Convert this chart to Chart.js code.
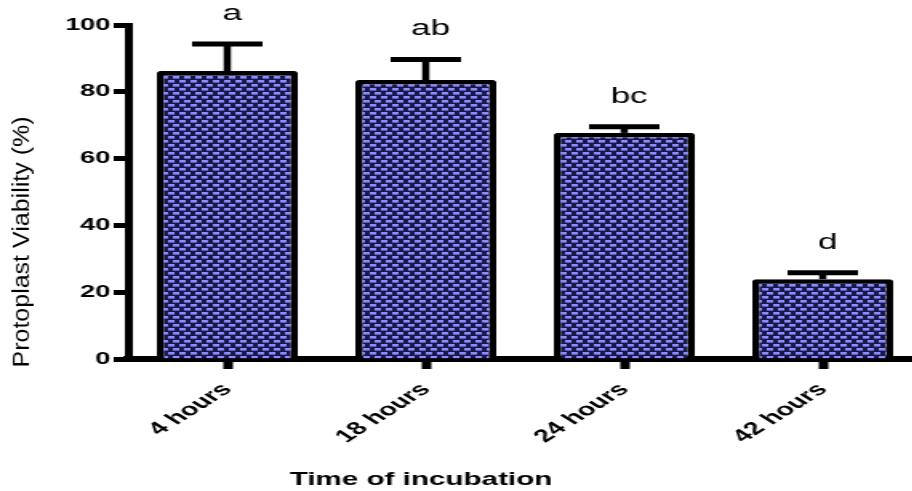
<!DOCTYPE html>
<html>
<head>
<meta charset="utf-8">
<script src="https://cdn.jsdelivr.net/npm/chart.js@4.4.1/dist/chart.umd.min.js"></script>
<style>
html,body{margin:0;padding:0;background:#fff;}
#wrap{width:912px;height:491px;overflow:hidden;position:relative;}
</style>
</head>
<body>
<!-- the source picture is stretched sideways, so the canvas is too -->
<div id="wrap"><canvas id="c" width="576" height="491" style="display:block;width:921.6px;height:491px;"></canvas></div>
<script>
const categories = ['4 hours', '18 hours', '24 hours', '42 hours'];
const viability = [86.2, 83.5, 67.7, 23.9];
const sd = [8.1, 6.2, 1.8, 1.9];
const letters = ['a', 'ab', 'bc', 'd'];
const yTicks = [0, 20, 40, 60, 80, 100];

const FONT = '"Liberation Sans", Arial, sans-serif';

function brick() {
  const t = document.createElement('canvas');
  t.width = 7; t.height = 8;
  const g = t.getContext('2d');
  g.fillStyle = '#17174a';
  g.fillRect(0, 0, 7, 8);
  g.fillStyle = '#8c8cff';
  g.fillRect(0, 0, 4, 2.6);
  g.fillRect(3, 4, 4, 2.6);
  return g.createPattern(t, 'repeat');
}

const extras = {
  id: 'extras',
  afterDatasetsDraw(chart) {
    const {ctx, scales: {x, y}} = chart;
    ctx.save();
    ctx.strokeStyle = '#000';
    ctx.fillStyle = '#000';
    viability.forEach((v, i) => {
      const cx = x.getPixelForValue(i);
      const top = y.getPixelForValue(v);
      const hi = y.getPixelForValue(v + sd[i]);
      ctx.lineWidth = 4.5;
      ctx.beginPath(); ctx.moveTo(cx, top); ctx.lineTo(cx, hi); ctx.stroke();
      ctx.lineWidth = 5;
      ctx.beginPath(); ctx.moveTo(cx - 22, hi); ctx.lineTo(cx + 22, hi); ctx.stroke();
      ctx.font = '22px ' + FONT;
      ctx.textAlign = 'center';
      ctx.textBaseline = 'middle';
      ctx.fillText(letters[i], cx + 3, hi - 30);
    });
    ctx.restore();
  },
  afterDraw(chart) {
    const {ctx, chartArea} = chart;
    ctx.save();
    ctx.fillStyle = '#000';
    // x title
    ctx.font = 'bold 18.5px ' + FONT;
    ctx.textAlign = 'center';
    ctx.textBaseline = 'alphabetic';
    ctx.fillText('Time of incubation', (chartArea.left + chartArea.right) / 2 - 65, 485);
    // y title, narrow letters
    ctx.translate(14, 242);
    ctx.rotate(-Math.PI / 2);
    ctx.scale(1, 0.56);
    ctx.font = '25px ' + FONT;
    ctx.textBaseline = 'middle';
    ctx.fillText('Protoplast Viability (%)', 0, 0);
    ctx.restore();
  }
};

new Chart(document.getElementById('c'), {
  type: 'bar',
  data: {
    labels: categories,
    datasets: [{
      data: viability,
      backgroundColor: brick(),
      borderColor: '#000',
      borderWidth: 4.5,
      borderSkipped: 'start',
      borderRadius: 2,
      barPercentage: 0.71,
      categoryPercentage: 1
    }]
  },
  options: {
    responsive: false,
    animation: false,
    devicePixelRatio: 1,
    layout: {padding: {top: 25, left: 0, right: 0, bottom: 0}},
    plugins: {legend: {display: false}, tooltip: {enabled: false}},
    scales: {
      x: {
        grid: {offset: false, drawOnChartArea: false, tickLength: 10, tickWidth: 6, tickColor: '#000'},
        border: {width: 6, color: '#000'},
        ticks: {color: '#000', font: {family: FONT, size: 18, weight: 'bold'}, minRotation: 45, maxRotation: 45, padding: 10},
        afterFit: s => { s.height = 132; }
      },
      y: {
        min: 0, max: 100,
        afterBuildTicks: s => { s.ticks = yTicks.map(v => ({value: v})); },
        grid: {drawOnChartArea: false, tickLength: 9, tickWidth: 5, tickColor: '#000'},
        border: {width: 5, color: '#000'},
        ticks: {color: '#000', font: {family: FONT, size: 17, weight: 'bold'}, padding: 2},
        afterFit: s => { s.width = 80; }
      }
    }
  },
  plugins: [extras]
});
</script>
</body>
</html>
